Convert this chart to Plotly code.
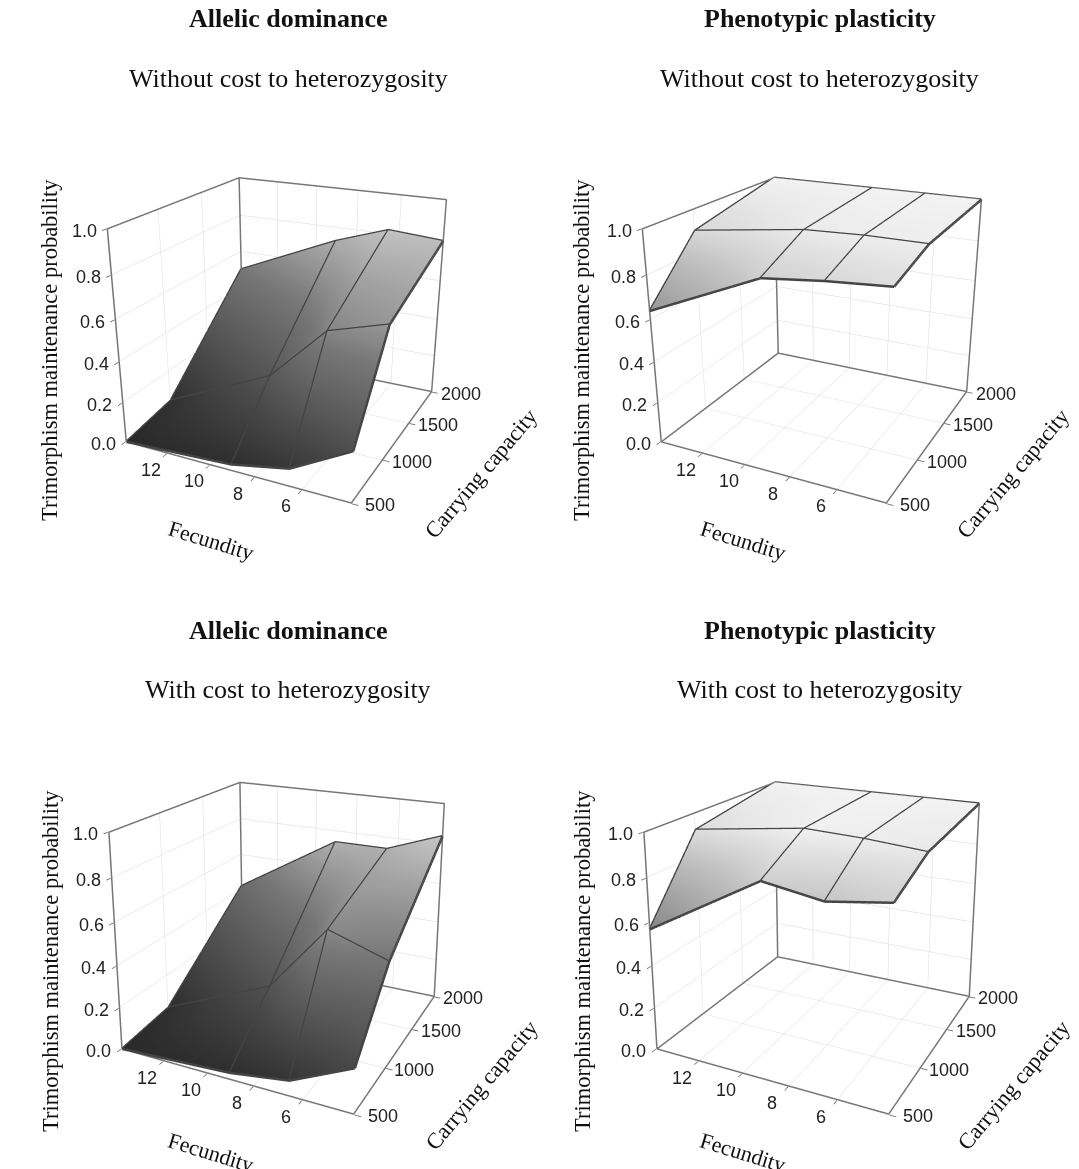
import math
import plotly.graph_objects as go

fecundity = [14, 9, 6.5, 4]
capacity = [500, 1000, 2000]
tick_fec = [12, 10, 8, 6]
tick_cap = [500, 1000, 1500, 2000]
tick_z = [0, 0.2, 0.4, 0.6, 0.8, 1.0]
fec_range = [14, 4]
cap_range = [500, 2000]
z_range = [0, 1]

dom_nocost = [[0.0, 0.03, 0.085, 0.24], [0.04, 0.29, 0.56, 0.64], [0.50, 0.73, 0.82, 0.80]]
pla_nocost = [[0.64, 0.87, 0.90, 0.92], [0.90, 0.97, 0.98, 0.98], [1.0, 1.0, 1.0, 1.0]]
dom_cost = [[0.0, 0.03, 0.07, 0.20], [0.03, 0.26, 0.58, 0.49], [0.42, 0.74, 0.74, 0.84]]
pla_cost = [[0.57, 0.87, 0.83, 0.87], [0.92, 0.99, 0.98, 0.96], [1.0, 1.0, 1.0, 1.0]]

titles = ["Allelic dominance", "Phenotypic plasticity"]
subtitles = ["Without cost to heterozygosity", "With cost to heterozygosity"]

W, H = 1079, 1169
fig = go.Figure()
panels = [
    ("scene", dom_nocost, 36, 540, 0, 676, -1.3),
    ("scene2", pla_nocost, 567, 1079, 0, 676, -1.3),
    ("scene3", dom_cost, 36, 540, 493, 1169, 6.4),
    ("scene4", pla_cost, 567, 1079, 493, 1169, 6.4),
]
scale = [[0, "#2a2a2a"], [0.5, "#777777"], [0.8, "#bdbdbd"], [1, "#f2f2f2"]]
line_col = "#444444"
frame_col = "#777777"
tick_font = dict(family="Liberation Sans", size=18, color="#222222")
EYE = (1.31, -2.689, 1.191)

def camera(pitch_deg):
    d = math.sqrt(sum(e * e for e in EYE))
    v = [-e / d for e in EYE]
    u = [-v[2] * c for c in v]
    u[2] += 1
    n = math.sqrt(sum(c * c for c in u))
    u = [c / n for c in u]
    a = math.radians(pitch_deg)
    centre = [EYE[i] + d * (v[i] * math.cos(a) + u[i] * math.sin(a)) for i in range(3)]
    return dict(eye=dict(x=EYE[0], y=EYE[1], z=EYE[2]),
                center=dict(x=centre[0], y=centre[1], z=centre[2]), up=dict(x=0, y=0, z=1))

def axis(ticks, rng):
    pad = (rng[1] - rng[0]) * 0.003
    return dict(
        range=[rng[0] - pad, rng[1] + pad], tickvals=ticks, showticklabels=False, title=dict(text=""),
        showbackground=False, showgrid=True, gridcolor="#d9d9d9", gridwidth=1,
        showline=False, zeroline=False, ticks="outside", ticklen=5, tickcolor="#777777",
        tickwidth=2, showspikes=False,
    )

def seg(scene, xs, ys, zs, color, width):
    fig.add_trace(go.Scatter3d(x=xs, y=ys, z=zs, mode="lines", scene=scene,
                               line=dict(color=color, width=width), showlegend=False, hoverinfo="skip"))

for scene, z, x0, x1, y0, y1, pitch in panels:
    fig.add_trace(go.Surface(
        x=fecundity, y=capacity, z=z, scene=scene, colorscale=scale, cmin=0, cmax=1,
        showscale=False, hoverinfo="skip",
        lighting=dict(ambient=1, diffuse=0, specular=0, roughness=1, fresnel=0),
    ))
    for i, c in enumerate(capacity):
        seg(scene, fecundity, [c] * len(fecundity), z[i], line_col, 5)
    for j, f in enumerate(fecundity):
        seg(scene, [f] * len(capacity), capacity, [r[j] for r in z], line_col, 5)
    fa, fb = fec_range
    ca, cb = cap_range
    za, zb = z_range
    seg(scene, [fa, fb, fb, fa, fa], [ca, ca, cb, cb, ca], [za] * 5, frame_col, 3)
    seg(scene, [fa, fa, fa, fb, fb], [ca, ca, cb, cb, cb], [za, zb, zb, zb, za], frame_col, 3)
    seg(scene, [fa, fa], [cb, cb], [za, zb], frame_col, 3)

    notes = []
    for t in tick_fec:
        notes.append(dict(x=t, y=ca, z=za, text=str(t), showarrow=False, xshift=-16, yshift=-17, font=tick_font))
    for t in tick_cap:
        notes.append(dict(x=fb, y=t, z=za, text=str(t), showarrow=False, xshift=29, yshift=-2, font=tick_font))
    for t in tick_z:
        notes.append(dict(x=fa, y=ca, z=t, text=f"{t:.1f}", showarrow=False, xshift=-23, yshift=-2, font=tick_font))

    fig.update_layout(**{scene: dict(
        domain=dict(x=[x0 / W, x1 / W], y=[1 - y1 / H, 1 - y0 / H]),
        xaxis=axis(tick_fec, fec_range),
        yaxis=axis(tick_cap, cap_range),
        zaxis=axis(tick_z, z_range),
        aspectmode="manual", aspectratio=dict(x=0.95, y=0.95, z=0.86),
        camera=camera(pitch),
        annotations=notes,
    )})

ann = []
serif = "Liberation Serif"
def txt(x, y, t, size, bold=False, angle=0):
    ann.append(dict(x=x / W, y=1 - y / H, xref="paper", yref="paper", text=f"<b>{t}</b>" if bold else t, showarrow=False,
                    xanchor="center", yanchor="middle", textangle=angle, font=dict(family=serif, size=size, color="#111111")))

for ox, name in ((0, titles[0]), (532, titles[1])):
    for oy, sub in ((0, subtitles[0]), (611, subtitles[1])):
        txt(288 + ox, 19 + oy, name, 26, True)
        txt(288 + ox, 78 + oy, sub, 26)
        txt(50 + ox, 350 + oy, "Trimorphism maintenance probability", 22.5, False, -90)
        txt(211 + ox, 541 + oy, "Fecundity", 22, False, 17)
        txt(481 + ox, 474 + oy, "Carrying capacity", 22.5, False, -50)

fig.update_layout(width=W, height=H, margin=dict(l=0, r=0, t=0, b=0), paper_bgcolor="white", annotations=ann, showlegend=False)
fig.write_html("out.html", config={"displayModeBar": False},
               post_script="document.body.style.margin='0';document.body.style.overflow='hidden';")
